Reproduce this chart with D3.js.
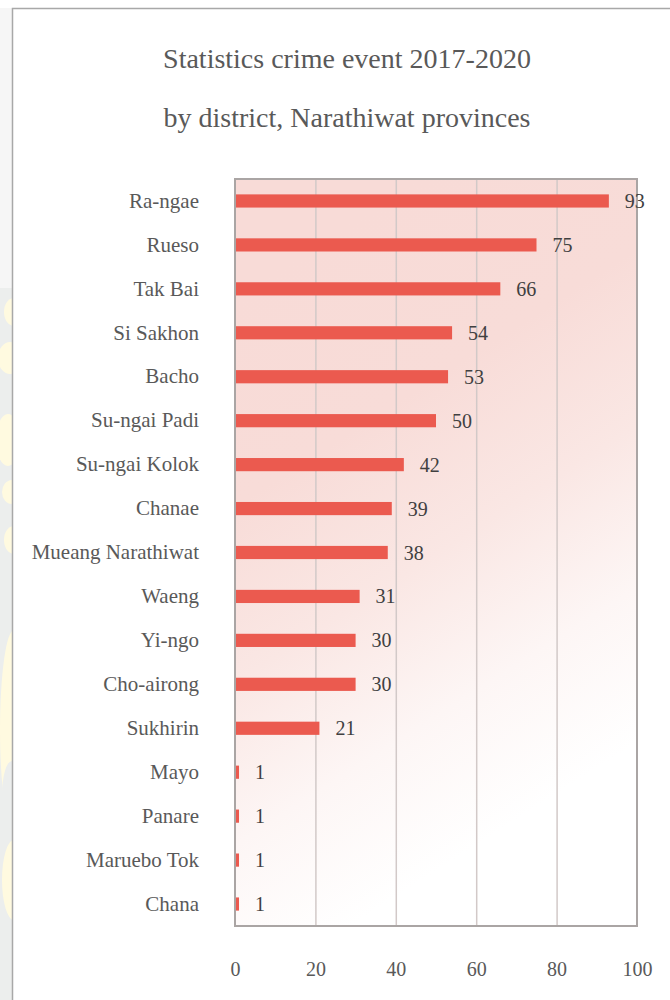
<!DOCTYPE html>
<html>
<head>
<meta charset="utf-8">
<script src="https://cdn.jsdelivr.net/npm/d3@7/dist/d3.min.js"></script>
<style>
  html, body { margin: 0; padding: 0; background: #ffffff; }
  svg { display: block; }
</style>
</head>
<body>
<div id="chart"></div>
<script>
// Crime events 2017-2020 per district, Narathiwat
const districts = [
  "Ra-ngae", "Rueso", "Tak Bai", "Si Sakhon", "Bacho", "Su-ngai Padi",
  "Su-ngai Kolok", "Chanae", "Mueang Narathiwat", "Waeng", "Yi-ngo",
  "Cho-airong", "Sukhirin", "Mayo", "Panare", "Maruebo Tok", "Chana"
];
const events = [93, 75, 66, 54, 53, 50, 42, 39, 38, 31, 30, 30, 21, 1, 1, 1, 1];
const xTicks = [0, 20, 40, 60, 80, 100];
const titleLines = ["Statistics crime event 2017-2020", "by district, Narathiwat provinces"];

const W = 670, H = 1000;
const plot = { left: 235, right: 637, top: 179, bottom: 926 };
const serif = "'Liberation Serif', 'Times New Roman', serif";

const svg = d3.select("#chart").append("svg")
  .attr("width", W).attr("height", H);

const defs = svg.append("defs");
const grad = defs.append("linearGradient")
  .attr("id", "plotFill")
  .attr("gradientUnits", "userSpaceOnUse")
  .attr("x1", 290).attr("y1", 260).attr("x2", 610).attr("y2", 760);
[[0, "#f8dbd7"], [0.3, "#f8dcd8"], [0.55, "#fae7e4"], [0.78, "#fdf6f5"], [1, "#ffffff"]]
  .forEach(([o, c]) => grad.append("stop").attr("offset", o).attr("stop-color", c));

defs.append("clipPath").attr("id", "stripClip")
  .append("rect").attr("x", 0).attr("y", 8).attr("width", 12).attr("height", H);

// page margin strip on the left with its faint pattern
const strip = svg.append("g").attr("clip-path", "url(#stripClip)");
strip.append("rect").attr("x", 0).attr("y", 8).attr("width", 12).attr("height", H)
  .attr("fill", "#eceeed");
strip.append("rect").attr("x", 0).attr("y", 8).attr("width", 12).attr("height", 280)
  .attr("fill", "#f6f6f6");
const blobs = [
  [14, 312, 10, 14], [10, 358, 12, 16], [8, 440, 12, 26], [12, 492, 10, 12],
  [14, 540, 10, 14], [14, 730, 14, 100], [14, 880, 12, 40]
];
strip.selectAll("ellipse.b").data(blobs).join("ellipse")
  .attr("cx", d => d[0]).attr("cy", d => d[1]).attr("rx", d => d[2]).attr("ry", d => d[3])
  .attr("fill", "#fffae0");
strip.append("ellipse").attr("cx", 12).attr("cy", 795).attr("rx", 10).attr("ry", 34)
  .attr("fill", "#eceeed");

// chart frame
svg.append("rect")
  .attr("x", 12.5).attr("y", 8.5).attr("width", 700).attr("height", 1100)
  .attr("fill", "#ffffff").attr("stroke", "#a8a8a8").attr("stroke-width", 1.5);

// title
svg.append("g").selectAll("text").data(titleLines).join("text")
  .attr("x", 347).attr("y", (d, i) => 68 + i * 59)
  .attr("text-anchor", "middle")
  .attr("font-family", serif).attr("font-size", 28)
  .attr("fill", "#595959")
  .text(d => d);

const x = d3.scaleLinear().domain([0, 100]).range([plot.left, plot.right]);
const y = d3.scaleBand().domain(districts).range([plot.top, plot.bottom])
  .paddingInner(0.7).paddingOuter(0.35);

// plot area
svg.append("rect")
  .attr("x", plot.left).attr("y", plot.top)
  .attr("width", plot.right - plot.left).attr("height", plot.bottom - plot.top)
  .attr("fill", "url(#plotFill)");

// vertical gridlines
const grid = svg.append("g")
  .attr("transform", `translate(0,${plot.bottom})`)
  .call(d3.axisBottom(x).tickValues(xTicks.slice(1, -1)).tickSize(-(plot.bottom - plot.top)).tickFormat(""));
grid.select(".domain").remove();
grid.selectAll(".tick line").attr("stroke", "#d2c9c8").attr("stroke-width", 1.5);

// bars
const data = districts.map((d, i) => ({ name: d, value: events[i] }));
svg.append("g").selectAll("rect").data(data).join("rect")
  .attr("x", x(0)).attr("y", d => y(d.name))
  .attr("width", d => x(d.value) - x(0))
  .attr("height", y.bandwidth())
  .attr("fill", "#eb5a4f");

// plot border
svg.append("rect")
  .attr("x", plot.left).attr("y", plot.top)
  .attr("width", plot.right - plot.left).attr("height", plot.bottom - plot.top)
  .attr("fill", "none").attr("stroke", "#aaa5a4").attr("stroke-width", 2);

// value labels
svg.append("g").selectAll("text").data(data).join("text")
  .attr("x", d => x(d.value) + 16)
  .attr("y", d => y(d.name) + y.bandwidth() / 2 + 7)
  .attr("font-family", serif).attr("font-size", 20)
  .attr("fill", "#404040")
  .text(d => d.value);

// category axis labels
const yAxis = svg.append("g")
  .attr("transform", `translate(${plot.left},0)`)
  .call(d3.axisLeft(y).tickSize(0).tickPadding(36));
yAxis.select(".domain").remove();
yAxis.selectAll(".tick text")
  .attr("font-family", serif).attr("font-size", 21)
  .attr("fill", "#595959").attr("dy", "0.32em");

// value axis labels
const xAxis = svg.append("g")
  .attr("transform", `translate(0,${plot.bottom})`)
  .call(d3.axisBottom(x).tickValues(xTicks).tickSize(0).tickPadding(0));
xAxis.select(".domain").remove();
xAxis.selectAll(".tick text")
  .attr("font-family", serif).attr("font-size", 20)
  .attr("fill", "#595959").attr("dy", 0).attr("y", 50);
</script>
</body>
</html>
